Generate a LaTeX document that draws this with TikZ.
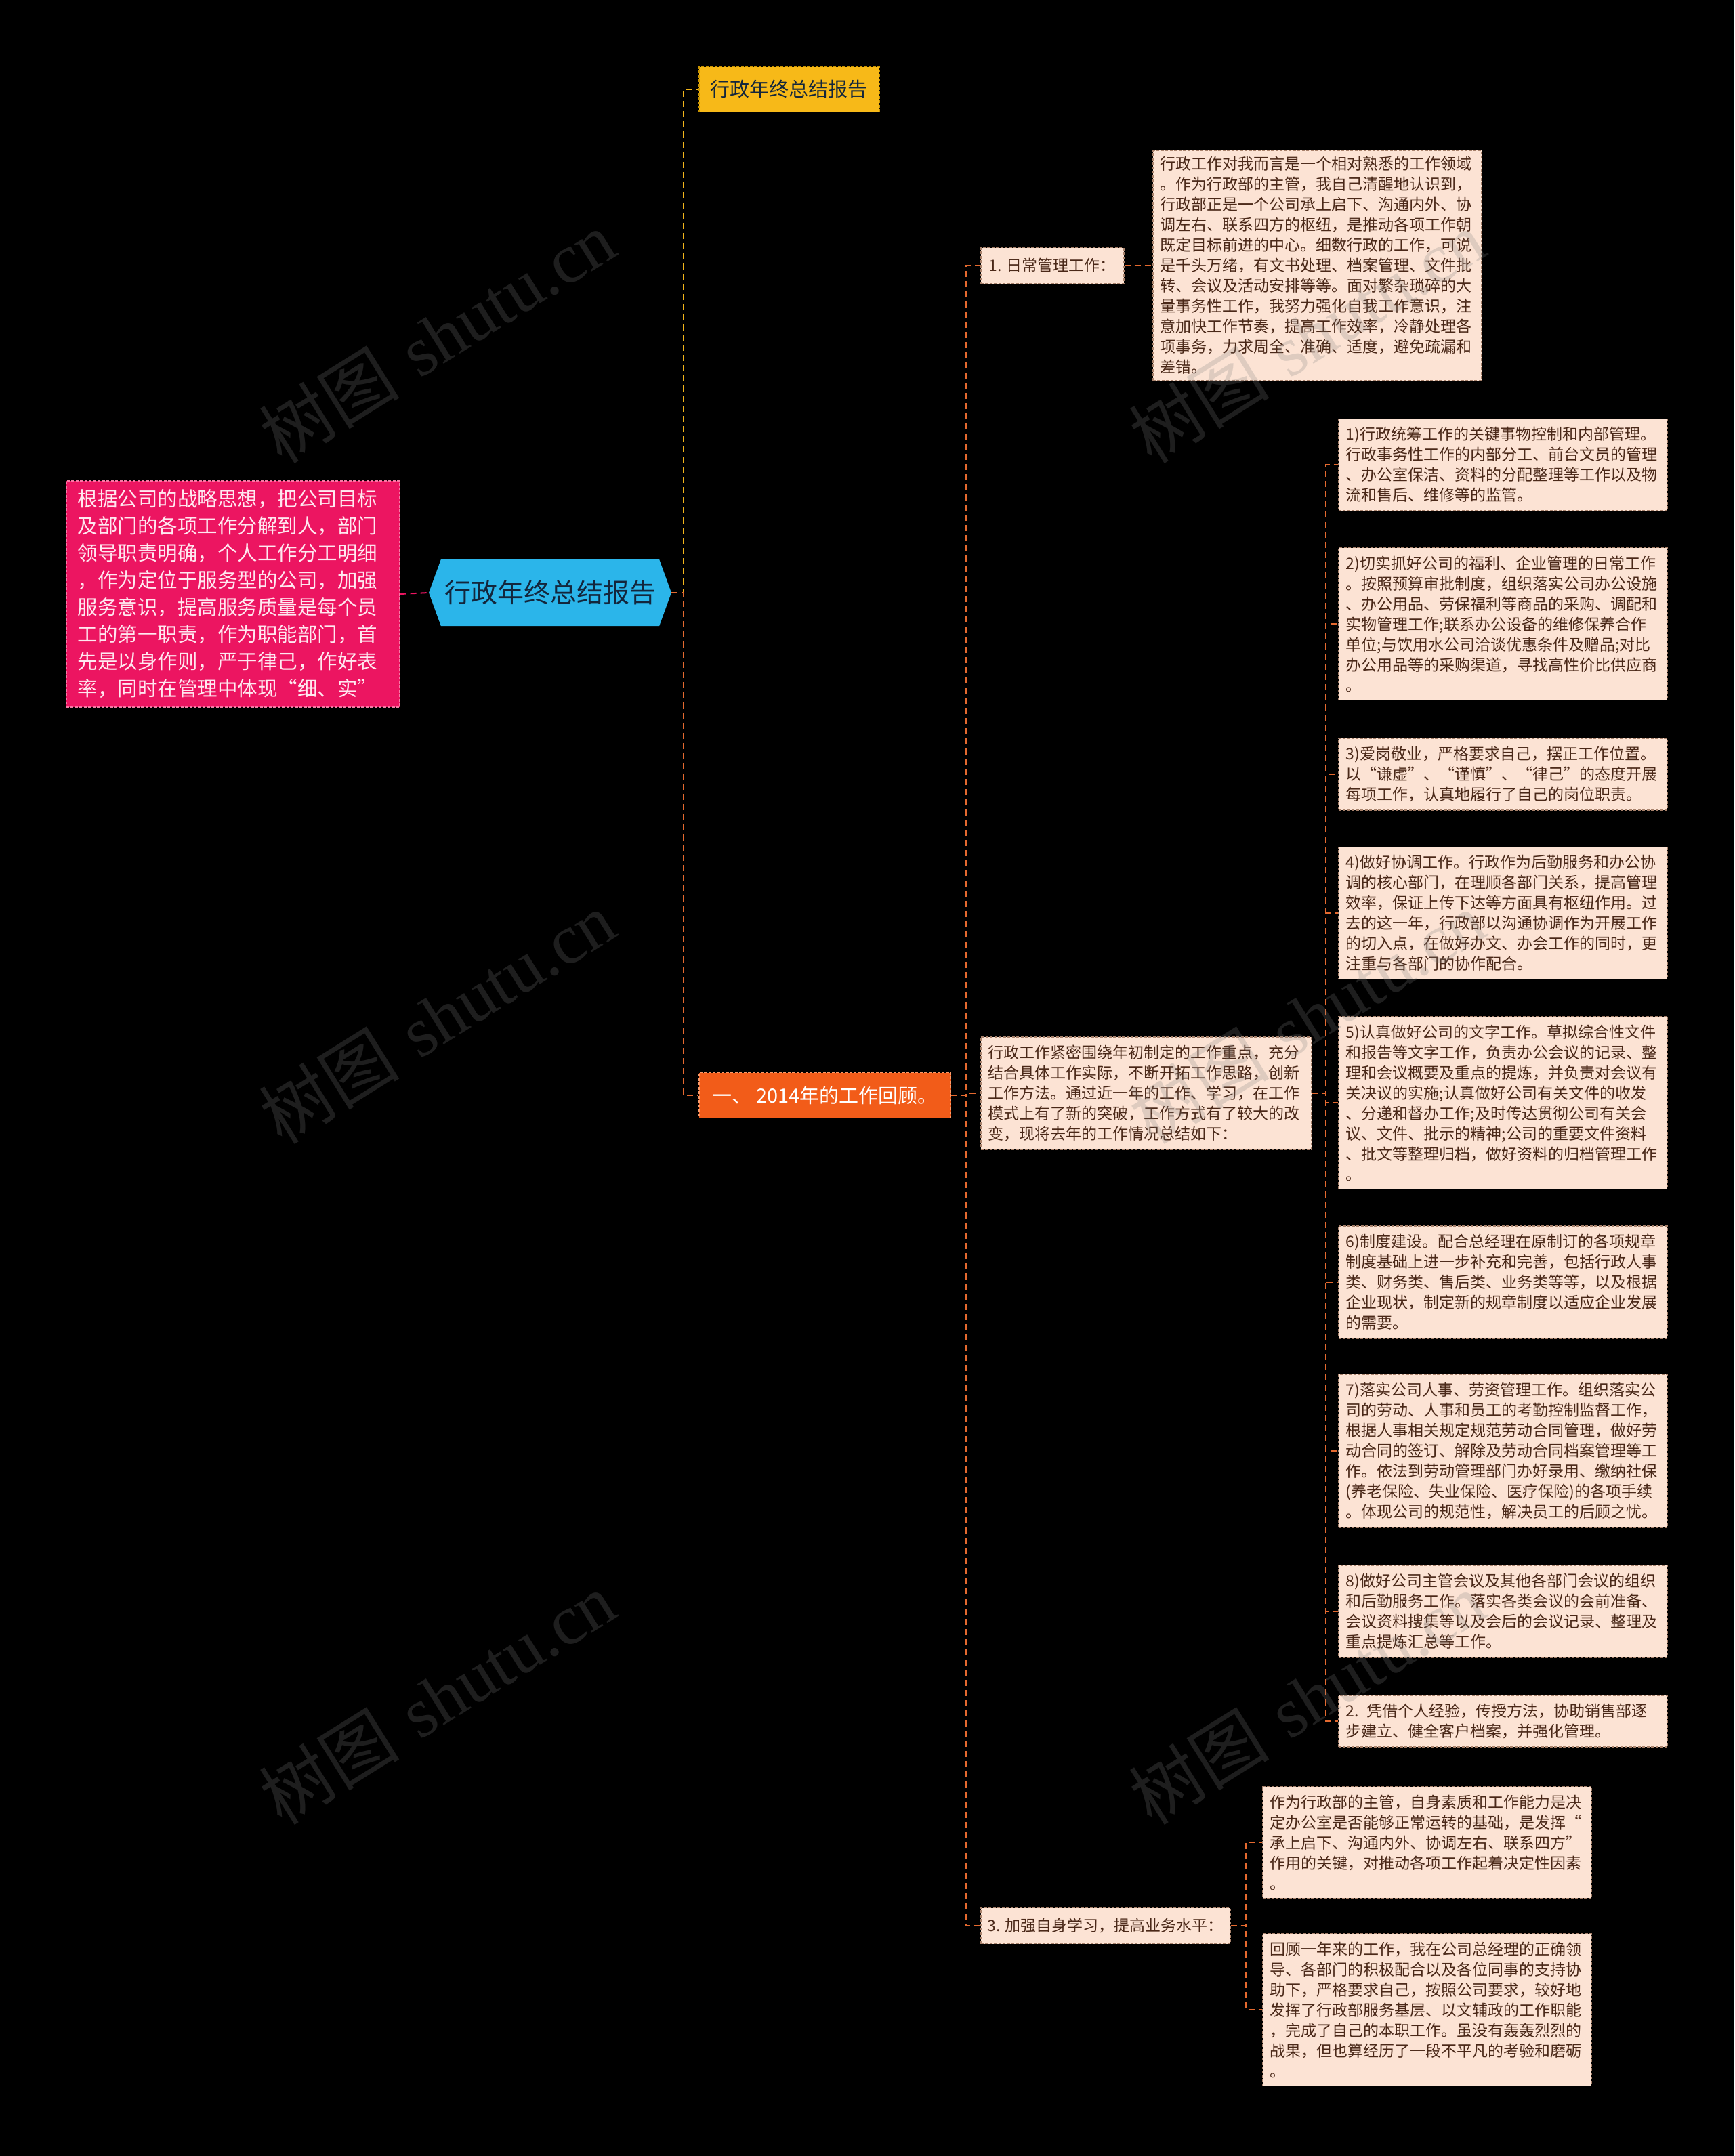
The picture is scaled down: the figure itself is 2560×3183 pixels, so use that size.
\documentclass[tikz,border=0pt]{standalone}
\usepackage{fontspec}
\newfontfamily\cjk{Noto Sans CJK SC}
\newfontfamily\wmserif{Liberation Serif}
\usepackage{tikz}
\usetikzlibrary{shapes.symbols}

\definecolor{pinkfill}{HTML}{EC1561}
\definecolor{pinkline}{HTML}{F77AA6}
\definecolor{pinkink}{HTML}{FFE8F0}
\definecolor{rootblue}{HTML}{2BB5EA}
\definecolor{rootink}{HTML}{13263C}
\definecolor{yellowfill}{HTML}{F7B918}
\definecolor{yellowline}{HTML}{C99400}
\definecolor{orangefill}{HTML}{F25C19}
\definecolor{orangeline}{HTML}{FA9A6A}
\definecolor{cream}{HTML}{FCE3D4}
\definecolor{creamline}{HTML}{A8826C}
\definecolor{brownink}{HTML}{4A2818}
\definecolor{linkorange}{HTML}{E4692F}
\definecolor{linkyellow}{HTML}{F2B51B}

\begin{document}
\begin{tikzpicture}[x=1pt, y=-1pt,
    box/.style={rectangle, dash pattern=on 4pt off 2.5pt, line width=1.6pt},
    note/.style={box, fill=cream, draw=creamline, text=brownink,
                 font=\cjk\fontsize{23}{30}\selectfont, align=left,
                 text width=463pt, inner xsep=11pt, inner ysep=12pt, anchor=west},
    tag/.style={box, fill=cream, draw=creamline, text=brownink,
                font=\cjk\fontsize{23}{30}\selectfont,
                inner xsep=12pt, minimum height=53pt, anchor=west},
    topic/.style={box, font=\cjk\fontsize{29}{36}\selectfont,
                  inner xsep=17pt, minimum height=67pt, anchor=west},
    lead/.style={box, fill=pinkfill, draw=pinkline, text=pinkink,
                 font=\cjk\fontsize{29.5}{40}\selectfont, align=left,
                 text width=458pt, inner xsep=17pt, inner ysep=13pt, anchor=west},
    root/.style={shape=signal, signal to=west and east, signal pointer angle=140,
                 fill=rootblue, text=rootink, font=\cjk\fontsize{39}{44}\selectfont,
                 minimum width=358pt, minimum height=98pt, inner xsep=4pt},
    link/.style={line width=2pt, dash pattern=on 9pt off 6pt},
    olink/.style={link, draw=linkorange},
    ylink/.style={link, draw=linkyellow},
    plink/.style={link, draw=pinkfill},
    wmark/.style={font=\fontsize{104}{104}\selectfont, text=gray,
                  opacity=0.24, rotate=32},
]

\fill[black] (0,0) rectangle (2560,3183);

% centre and left note
\node[root] (root) at (812,875) {行政年终总结报告};
\node[lead] (lead) at (97,877) {根据公司的战略思想，把公司目标\\
及部门的各项工作分解到人，部门\\
领导职责明确，个人工作分工明细\\
，作为定位于服务型的公司，加强\\
服务意识，提高服务质量是每个员\\
工的第一职责，作为职能部门，首\\
先是以身作则，严于律己，作好表\\
率，同时在管理中体现“细、实”};

% first level
\node[topic, fill=yellowfill, draw=yellowline, text=rootink] (title) at (1031,132) {行政年终总结报告};
\node[topic, fill=orangefill, draw=orangeline, text=white, inner xsep=20pt] (review) at (1031,1617) {一、 2014年的工作回顾。};

% second level
\node[tag] (daily) at (1447,392) {1. 日常管理工作：};
\node[note, text width=466pt] (intro) at (1447,1614) {行政工作紧密围绕年初制定的工作重点，充分\\
结合具体工作实际，不断开拓工作思路，创新\\
工作方法。通过近一年的工作、学习，在工作\\
模式上有了新的突破，工作方式有了较大的改\\
变，现将去年的工作情况总结如下：};
\node[tag, inner xsep=10pt] (learn) at (1447,2843) {3. 加强自身学习，提高业务水平：};

% daily work detail
\node[note, inner ysep=9pt] (detail) at (1701,392) {行政工作对我而言是一个相对熟悉的工作领域\\
。作为行政部的主管，我自己清醒地认识到，\\
行政部正是一个公司承上启下、沟通内外、协\\
调左右、联系四方的枢纽，是推动各项工作朝\\
既定目标前进的中心。细数行政的工作，可说\\
是千头万绪，有文书处理、档案管理、文件批\\
转、会议及活动安排等等。面对繁杂琐碎的大\\
量事务性工作，我努力强化自我工作意识，注\\
意加快工作节奏，提高工作效率，冷静处理各\\
项事务，力求周全、准确、适度，避免疏漏和\\
差错。};

% work items
\node[note] (w1) at (1975,686) {1)行政统筹工作的关键事物控制和内部管理。\\
行政事务性工作的内部分工、前台文员的管理\\
、办公室保洁、资料的分配整理等工作以及物\\
流和售后、维修等的监管。};
\node[note] (w2) at (1975,921) {2)切实抓好公司的福利、企业管理的日常工作\\
。按照预算审批制度，组织落实公司办公设施\\
、办公用品、劳保福利等商品的采购、调配和\\
实物管理工作;联系办公设备的维修保养合作\\
单位;与饮用水公司洽谈优惠条件及赠品;对比\\
办公用品等的采购渠道，寻找高性价比供应商\\
。};
\node[note] (w3) at (1975,1143) {3)爱岗敬业，严格要求自己，摆正工作位置。\\
以“谦虚”、“谨慎”、“律己”的态度开展\\
每项工作，认真地履行了自己的岗位职责。};
\node[note] (w4) at (1975,1348) {4)做好协调工作。行政作为后勤服务和办公协\\
调的核心部门，在理顺各部门关系，提高管理\\
效率，保证上传下达等方面具有枢纽作用。过\\
去的这一年，行政部以沟通协调作为开展工作\\
的切入点，在做好办文、办会工作的同时，更\\
注重与各部门的协作配合。};
\node[note] (w5) at (1975,1628) {5)认真做好公司的文字工作。草拟综合性文件\\
和报告等文字工作，负责办公会议的记录、整\\
理和会议概要及重点的提炼，并负责对会议有\\
关决议的实施;认真做好公司有关文件的收发\\
、分递和督办工作;及时传达贯彻公司有关会\\
议、文件、批示的精神;公司的重要文件资料\\
、批文等整理归档，做好资料的归档管理工作\\
。};
\node[note] (w6) at (1975,1893) {6)制度建设。配合总经理在原制订的各项规章\\
制度基础上进一步补充和完善，包括行政人事\\
类、财务类、售后类、业务类等等，以及根据\\
企业现状，制定新的规章制度以适应企业发展\\
的需要。};
\node[note] (w7) at (1975,2142) {7)落实公司人事、劳资管理工作。组织落实公\\
司的劳动、人事和员工的考勤控制监督工作，\\
根据人事相关规定规范劳动合同管理，做好劳\\
动合同的签订、解除及劳动合同档案管理等工\\
作。依法到劳动管理部门办好录用、缴纳社保\\
(养老保险、失业保险、医疗保险)的各项手续\\
。体现公司的规范性，解决员工的后顾之忧。};
\node[note] (w8) at (1975,2379) {8)做好公司主管会议及其他各部门会议的组织\\
和后勤服务工作。落实各类会议的会前准备、\\
会议资料搜集等以及会后的会议记录、整理及\\
重点提炼汇总等工作。};
\node[note] (w9) at (1975,2541) {2. 凭借个人经验，传授方法，协助销售部逐\\
步建立、健全客户档案，并强化管理。};

% self study
\node[note] (selfa) at (1863,2720) {作为行政部的主管，自身素质和工作能力是决\\
定办公室是否能够正常运转的基础，是发挥“\\
承上启下、沟通内外、协调左右、联系四方”\\
作用的关键，对推动各项工作起着决定性因素\\
。};
\node[note] (selfb) at (1863,2967) {回顾一年来的工作，我在公司总经理的正确领\\
导、各部门的积极配合以及各位同事的支持协\\
助下，严格要求自己，按照公司要求，较好地\\
发挥了行政部服务基层、以文辅政的工作职能\\
，完成了自己的本职工作。虽没有轰轰烈烈的\\
战果，但也算经历了一段不平凡的考验和磨砺\\
。};

% links
\draw[plink] (lead.east) -- (root.west);
\draw[ylink] (root.east) -- ++(18,0) |- (title.west);
\draw[olink] (root.east) -- ++(18,0) |- (review.west);
\foreach \n in {daily, intro, learn}
  \draw[olink] (review.east) -- ++(22,0) |- (\n.west);
\draw[olink] (daily.east) -- (detail.west);
\foreach \n in {w1, w2, w3, w4, w5, w6, w7, w8, w9}
  \draw[olink] (intro.east) -- ++(20,0) |- (\n.west);
\foreach \n in {selfa, selfb}
  \draw[olink] (learn.east) -- ++(22,0) |- (\n.west);

% watermarks
\foreach \wx/\wy in {645/497, 1929/497, 645/1502, 1929/1502, 645/2507, 1929/2507}
  \node[wmark] (wm\wx\wy) at (\wx,\wy) {{\cjk 树图} {\wmserif shutu.cn}};

\end{tikzpicture}
\end{document}
